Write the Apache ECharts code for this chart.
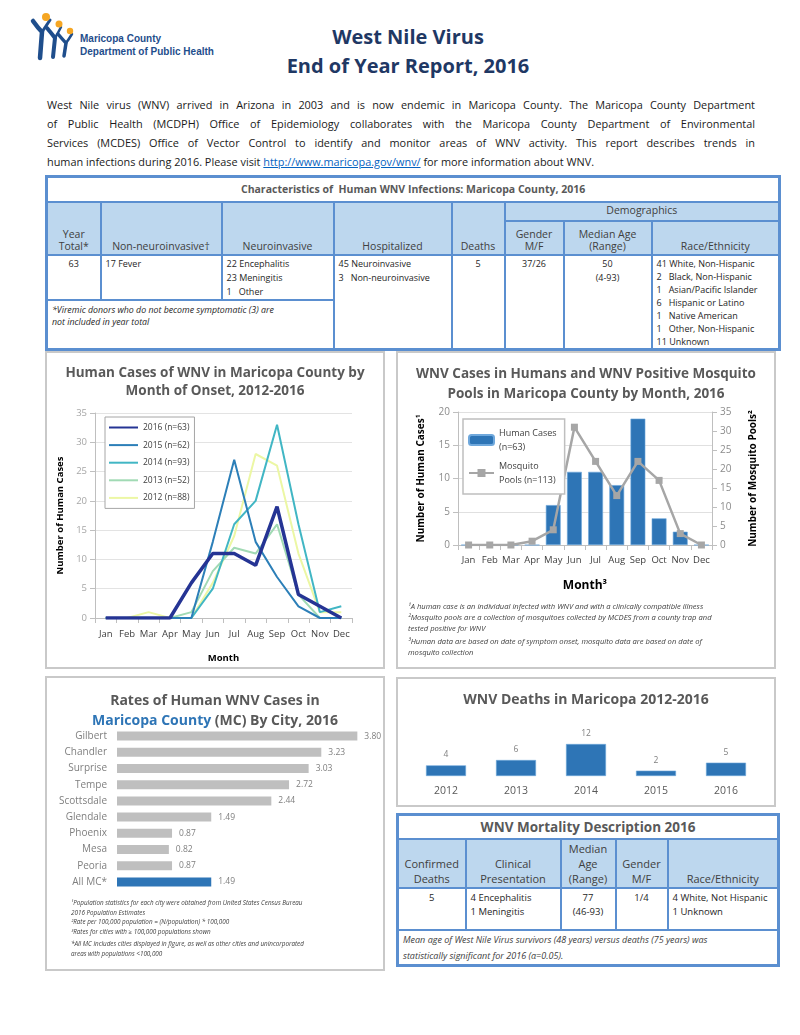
<!DOCTYPE html>
<html>
<head>
<meta charset="utf-8">
<script src="https://cdn.jsdelivr.net/npm/echarts@6/dist/echarts.min.js"></script>
<style>
  body { margin: 0; background: #fff; font-family: "Open Sans", sans-serif; color: #262626; }
  .abs { position: absolute; }
  #logoText { left: 80px; top: 32px; font-family: "Liberation Sans", Arial, sans-serif; font-weight: bold; font-size: 10px; line-height: 13px; color: #1f4e8c; }
  #title { left: 208px; width: 400px; top: 22px; text-align: center; font-family: "Open Sans", sans-serif; font-weight: bold; font-size: 20px; line-height: 29px; color: #1f3864; }
  #intro { left: 47px; top: 95px; width: 708px; font-size: 10.9px; color: #1a1a1a; }
  #intro div { height: 19px; line-height: 19px; text-align: justify; text-align-last: justify; }
  #intro div.last { text-align-last: left; }
  #intro a { color: #0563c1; }
  table { border-collapse: collapse; table-layout: fixed; }
  td { padding: 0 4px; overflow: hidden; }
  #t1 { left: 45px; top: 175px; width: 733px; border: 3px solid #5b8fd0; }
  #t1 td { border: 2px solid #5b8fd0; }
  #t1 .ttl { text-align: center; font-weight: bold; font-size: 10.5px; color: #595959; background: #fff; }
  #t1 .hd td { background: #bdd7ee; text-align: center; vertical-align: bottom; font-size: 10.5px; line-height: 12px; color: #404040; padding-bottom: 2px; }
  #t1 .dt td { vertical-align: top; font-size: 9px; line-height: 14px; padding-top: 1px; background: #fff; }
  #t1 td.race { line-height: 13px; }
  #t1 td.c { text-align: center; }
  #t1 td.fn { font-style: italic; font-size: 8.8px; line-height: 12.5px; vertical-align: top; padding-top: 3px; }
  .panel { position: absolute; box-sizing: border-box; border: 2px solid #c9c9c9; background: #fff; }
  .chart { position: absolute; }
  #t2 { left: 396px; top: 813px; width: 381px; border: 3px solid #5b8fd0; }
  #t2 td { border: 2px solid #5b8fd0; }
  #t2 .ttl { text-align: center; font-weight: bold; font-size: 13.5px; color: #595959; }
  #t2 .hd td { background: #bdd7ee; text-align: center; vertical-align: bottom; font-size: 11px; line-height: 15px; color: #404040; padding-bottom: 1px; }
  #t2 .dt td { vertical-align: top; font-size: 9.5px; line-height: 14px; padding-top: 2px; }
  #t2 td.c { text-align: center; }
  #t2 td.fn { font-style: italic; font-size: 9px; line-height: 16px; padding-top: 1px; color: #404040; }
</style>
</head>
<body>
<!-- logo -->
<svg class="abs" style="left:28px;top:10px" width="50" height="52">
  <g fill="none" stroke="#1f4e8c" stroke-linecap="round">
    <path d="M5 11 Q10 18 14 22 L12 48" stroke-width="4.5"/>
    <path d="M22 10 Q18 16 14 22" stroke-width="3"/>
    <path d="M19 18 Q24 24 27 28 L25 47" stroke-width="4"/>
    <path d="M33 17 Q30 23 27 28" stroke-width="2.5"/>
    <path d="M30 24 Q35 30 38 33 L36 46" stroke-width="3.5"/>
    <path d="M44 24 Q41 29 38 33" stroke-width="2.5"/>
  </g>
  <circle cx="18" cy="7" r="4" fill="#f5a623"/>
  <circle cx="31" cy="14" r="3.5" fill="#f5a623"/>
  <circle cx="42" cy="21" r="3.2" fill="#f5a623"/>
</svg>
<div id="logoText" class="abs">Maricopa County<br>Department of Public Health</div>

<div id="title" class="abs">West Nile Virus<br>End of Year Report, 2016</div>

<div id="intro" class="abs">
  <div>West Nile virus (WNV) arrived in Arizona in 2003 and is now endemic in Maricopa County. The Maricopa County Department</div>
  <div>of Public Health (MCDPH) Office of Epidemiology collaborates with the Maricopa County Department of Environmental</div>
  <div>Services (MCDES) Office of Vector Control to identify and monitor areas of WNV activity. This report describes trends in</div>
  <div class="last">human infections during 2016. Please visit <a href="#">http://www.maricopa.gov/wnv/</a> for more information about WNV.</div>
</div>

<table id="t1" class="abs">
  <colgroup>
    <col style="width:54px"><col style="width:121px"><col style="width:112px"><col style="width:118px">
    <col style="width:53px"><col style="width:59px"><col style="width:88px"><col style="width:128px">
  </colgroup>
  <tr style="height:25px"><td colspan="8" class="ttl">Characteristics of&nbsp; Human WNV Infections: Maricopa County, 2016</td></tr>
  <tr class="hd" style="height:19px">
    <td rowspan="2">Year<br>Total*</td><td rowspan="2">Non-neuroinvasive†</td><td rowspan="2">Neuroinvasive</td>
    <td rowspan="2">Hospitalized</td><td rowspan="2">Deaths</td><td colspan="3" style="vertical-align:middle">Demographics</td>
  </tr>
  <tr class="hd" style="height:34px"><td>Gender<br>M/F</td><td>Median Age<br>(Range)</td><td>Race/Ethnicity</td></tr>
  <tr class="dt" style="height:42px">
    <td class="c">63</td><td>17 Fever</td><td>22 Encephalitis<br>23 Meningitis<br>1&nbsp;&nbsp; Other</td>
    <td rowspan="2">45 Neuroinvasive<br>3&nbsp;&nbsp; Non-neuroinvasive</td>
    <td rowspan="2" class="c">5</td><td rowspan="2" class="c">37/26</td><td rowspan="2" class="c">50<br>(4-93)</td>
    <td rowspan="2" class="race">41 White, Non-Hispanic<br>2&nbsp;&nbsp; Black, Non-Hispanic<br>1&nbsp;&nbsp; Asian/Pacific Islander<br>6&nbsp;&nbsp; Hispanic or Latino<br>1&nbsp;&nbsp; Native American<br>1&nbsp;&nbsp; Other, Non-Hispanic<br>11 Unknown</td>
  </tr>
  <tr style="height:50px"><td colspan="3" class="fn">*Viremic donors who do not become symptomatic (3) are<br>not included in year total</td></tr>
</table>

<div class="panel" style="left:45px;top:351px;width:340px;height:318px"></div>
<div id="c1" class="chart" style="left:45px;top:351px;width:340px;height:318px"></div>

<div class="panel" style="left:396px;top:351px;width:380px;height:318px"></div>
<div id="c2" class="chart" style="left:396px;top:351px;width:380px;height:318px"></div>

<div class="panel" style="left:45px;top:676px;width:340px;height:295px"></div>
<div id="c3" class="chart" style="left:45px;top:676px;width:340px;height:295px"></div>

<div class="panel" style="left:396px;top:677px;width:380px;height:130px"></div>
<div id="c4" class="chart" style="left:396px;top:677px;width:380px;height:130px"></div>

<table id="t2" class="abs">
  <colgroup><col style="width:68px"><col style="width:95px"><col style="width:55px"><col style="width:52px"><col style="width:111px"></colgroup>
  <tr style="height:24px"><td colspan="5" class="ttl">WNV Mortality Description 2016</td></tr>
  <tr class="hd" style="height:49px"><td>Confirmed<br>Deaths</td><td>Clinical<br>Presentation</td><td>Median<br>Age<br>(Range)</td><td>Gender<br>M/F</td><td>Race/Ethnicity</td></tr>
  <tr class="dt" style="height:42px"><td class="c">5</td><td>4 Encephalitis<br>1 Meningitis</td><td class="c">77<br>(46-93)</td><td class="c">1/4</td><td>4 White, Not Hispanic<br>1 Unknown</td></tr>
  <tr style="height:34px"><td colspan="5" class="fn">Mean age of West Nile Virus survivors (48 years) versus deaths (75 years) was<br>statistically significant for 2016 (α=0.05).</td></tr>
</table>

<script>
// 月份
const months = ['Jan', 'Feb', 'Mar', 'Apr', 'May', 'Jun', 'Jul', 'Aug', 'Sep', 'Oct', 'Nov', 'Dec']
// 各年人类病例（按发病月份）
const cases2016 = [0, 0, 0, 0, 6, 11, 11, 9, 19, 4, 2, 0]
const cases2015 = [0, 0, 0, 0, 0, 13, 27, 13, 7, 2, 0, 0]
const cases2014 = [0, 0, 0, 0, 0, 5, 16, 20, 33, 16, 1, 2]
const cases2013 = [0, 0, 0, 0, 1, 8, 12, 11, 16, 4, 0, 0]
const cases2012 = [0, 0, 1, 0, 0, 6, 14, 28, 26, 11, 1, 1]
const yearNames = ['2016 (n=63)', '2015 (n=62)', '2014 (n=93)', '2013 (n=52)', '2012 (n=88)']
// 2016 人类病例 vs 蚊子池
const humanCases2016 = [0, 0, 0, 0, 6, 11, 11, 9, 19, 4, 2, 0]
const mosquitoPools2016 = [0, 0, 0, 1, 4, 31, 22, 13, 22, 17, 3, 0]
// 各城市发病率
const cities = ['Gilbert', 'Chandler', 'Surprise', 'Tempe', 'Scottsdale', 'Glendale', 'Phoenix', 'Mesa', 'Peoria', 'All MC*']
const cityRates = [3.80, 3.23, 3.03, 2.72, 2.44, 1.49, 0.87, 0.82, 0.87, 1.49]
// 死亡
const deathYears = ['2012', '2013', '2014', '2015', '2016']
const deaths = [4, 6, 12, 2, 5]

const font = 'Open Sans'
const gray = '#595959'

// 图1 折线图
const chart1 = echarts.init(document.getElementById('c1'))
const lineColors = { '2016 (n=63)': '#253494', '2015 (n=62)': '#2c7fb8', '2014 (n=93)': '#41b6c4', '2013 (n=52)': '#a1dab4', '2012 (n=88)': '#ecf7a4' }
const lineData = { '2016 (n=63)': cases2016, '2015 (n=62)': cases2015, '2014 (n=93)': cases2014, '2013 (n=52)': cases2013, '2012 (n=88)': cases2012 }
chart1.setOption({
    animation: false,
    textStyle: { fontFamily: font },
    title: {
        text: 'Human Cases of WNV in Maricopa County by\nMonth of Onset, 2012-2016',
        left: 'center', top: 8,
        textStyle: { fontSize: 13.5, fontWeight: 'bold', color: gray, lineHeight: 18, fontFamily: font }
    },
    legend: {
        orient: 'vertical', left: 60, top: 66,
        data: yearNames,
        itemWidth: 29, itemHeight: 10, itemGap: 8.6,
        padding: [6, 5, 6, 3],
        borderColor: '#a6a6a6', borderWidth: 1, backgroundColor: '#fff',
        itemStyle: { opacity: 0 }, // 只显示线，不显示点
        textStyle: { fontSize: 8.5, color: '#404040' }
    },
    grid: { left: 50, right: 33, top: 62, bottom: 51 },
    xAxis: {
        type: 'category', data: months, boundaryGap: true,
        axisLine: { lineStyle: { color: '#bfbfbf' } },
        axisTick: { show: true, lineStyle: { color: '#bfbfbf' } },
        axisLabel: { color: '#404040', fontSize: 9.5, interval: 0, margin: 11 },
        name: 'Month', nameLocation: 'middle', nameGap: 35,
        nameTextStyle: { fontWeight: 'bold', fontSize: 9.5, color: '#000' }
    },
    yAxis: {
        type: 'value', min: 0, max: 35, interval: 5,
        axisLine: { show: true, lineStyle: { color: '#bfbfbf' } },
        axisTick: { show: true, lineStyle: { color: '#bfbfbf' } },
        axisLabel: { color: '#a6a6a6', fontSize: 9.5 },
        splitLine: { lineStyle: { color: '#e3e3e3' } },
        name: 'Number of Human Cases', nameLocation: 'middle', nameRotate: 90, nameGap: 27,
        nameTextStyle: { fontWeight: 'bold', fontSize: 9.5, color: '#000' }
    },
    // 2016 最后画，在最上面
    series: yearNames.slice().reverse().map(name => ({
        name: name,
        type: 'line',
        data: lineData[name],
        symbol: 'none',
        color: lineColors[name],
        lineStyle: { width: name === '2016 (n=63)' ? 3.5 : 2, color: lineColors[name] }
    }))
})

// 图2 柱状 + 折线
const chart2 = echarts.init(document.getElementById('c2'))
const foot2 = [
    '¹A human case is an individual infected with WNV and with a clinically compatible illness',
    '²Mosquito pools are a collection of mosquitoes collected by MCDES from a county trap and',
    'tested positive for WNV',
    '³Human data are based on date of symptom onset, mosquito data are based on date of',
    'mosquito collection'
]
const foot2Y = [257, 268, 279, 292, 303]
chart2.setOption({
    animation: false,
    textStyle: { fontFamily: font },
    title: {
        text: 'WNV Cases in Humans and WNV Positive Mosquito\nPools in Maricopa County by Month, 2016',
        left: 'center', top: 8,
        textStyle: { fontSize: 13.5, fontWeight: 'bold', color: gray, lineHeight: 20, fontFamily: font }
    },
    legend: {
        orient: 'vertical', left: 67, top: 68,
        data: ['Human Cases', 'Mosquito Pools'],
        itemWidth: 25, itemHeight: 10, itemGap: 5,
        padding: [7, 8, 7, 5],
        borderColor: '#bfbfbf', borderWidth: 1.5, backgroundColor: '#fff',
        formatter: name => name === 'Human Cases' ? 'Human Cases\n(n=63)' : 'Mosquito\nPools (n=113)',
        textStyle: { fontSize: 9, color: '#404040', lineHeight: 14 }
    },
    grid: { left: 62, right: 64, top: 61, bottom: 124 },
    xAxis: {
        type: 'category', data: months,
        axisLine: { lineStyle: { color: '#bfbfbf' } },
        axisTick: { show: true, lineStyle: { color: '#bfbfbf' } },
        axisLabel: { color: '#404040', fontSize: 9.5, interval: 0, margin: 10 },
        name: 'Month³', nameLocation: 'middle', nameGap: 35,
        nameTextStyle: { fontWeight: 'bold', fontSize: 12, color: '#000' }
    },
    yAxis: [
        {
            type: 'value', min: 0, max: 20, interval: 5,
            axisLine: { show: true, lineStyle: { color: '#bfbfbf' } },
            axisTick: { show: true, lineStyle: { color: '#bfbfbf' } },
            axisLabel: { color: '#8c8c8c', fontSize: 10 },
            splitLine: { lineStyle: { color: '#e0e0e0' } },
            name: 'Number of Human Cases¹', nameLocation: 'middle', nameRotate: 90, nameGap: 32,
            nameTextStyle: { fontWeight: 'bold', fontSize: 10, color: '#000' }
        },
        {
            type: 'value', min: 0, max: 35, interval: 5,
            axisLine: { show: true, lineStyle: { color: '#bfbfbf' } },
            axisTick: { show: true, lineStyle: { color: '#bfbfbf' } },
            axisLabel: { color: '#8c8c8c', fontSize: 10 },
            splitLine: { show: false },
            name: 'Number of Mosquito Pools²', nameLocation: 'middle', nameRotate: 90, nameGap: 36,
            nameTextStyle: { fontWeight: 'bold', fontSize: 10, color: '#000' }
        }
    ],
    graphic: foot2.map((t, i) => ({
        type: 'text', left: 12, top: foot2Y[i] - 5,
        style: { text: t, font: 'italic 7.6px "Open Sans"', fill: '#404040' }
    })),
    series: [
        {
            name: 'Human Cases', type: 'bar', data: humanCases2016, barWidth: '70%',
            itemStyle: { color: '#2e75b6', borderColor: '#6fa8dc', borderWidth: 0.6 }
        },
        {
            name: 'Mosquito Pools', type: 'line', yAxisIndex: 1, data: mosquitoPools2016,
            symbol: 'rect', symbolSize: 7, color: '#a6a6a6',
            lineStyle: { width: 2.5, color: '#a6a6a6' }
        }
    ]
})

// 图3 城市发病率
const chart3 = echarts.init(document.getElementById('c3'))
const foot3 = [
    '¹Population statistics for each city were obtained from United States Census Bureau',
    '2016 Population Estimates',
    '²Rate per 100,000 population = (N/population) * 100,000',
    '³Rates for cities with ≥ 100,000 populations shown',
    '*All MC includes cities displayed in figure, as well as other cities and unincorporated',
    'areas with populations <100,000'
]
const foot3Y = [228, 238, 247, 257, 269, 279]
chart3.setOption({
    animation: false,
    textStyle: { fontFamily: font },
    title: {
        text: '{g|Rates of Human WNV Cases in}\n{b|Maricopa County}{g| (MC) By City, 2016}',
        left: 'center', top: 10,
        textStyle: {
            rich: {
                g: { fontSize: 14, fontWeight: 'bold', color: gray, lineHeight: 20, fontFamily: font },
                b: { fontSize: 14, fontWeight: 'bold', color: '#2e75b6', lineHeight: 20, fontFamily: font }
            }
        }
    },
    grid: { left: 72, right: 15, top: 52, bottom: 81 },
    xAxis: { type: 'value', min: 0, max: 4, show: false },
    yAxis: {
        type: 'category', data: cities, inverse: true,
        axisLine: { show: false }, axisTick: { show: false },
        axisLabel: { color: '#7f7f7f', fontSize: 10, margin: 10 }
    },
    graphic: foot3.map((t, i) => ({
        type: 'text', left: 26, top: foot3Y[i] - 4,
        style: { text: t, font: 'italic 6.3px "Open Sans"', fill: '#404040' }
    })),
    series: [{
        type: 'bar', data: cityRates, barWidth: 9,
        itemStyle: { color: p => p.dataIndex === cities.length - 1 ? '#2e75b6' : '#bfbfbf' },
        label: { show: true, position: 'right', distance: 7, color: '#7f7f7f', fontSize: 8.5, formatter: p => p.value.toFixed(2) }
    }]
})

// 图4 死亡
const chart4 = echarts.init(document.getElementById('c4'))
chart4.setOption({
    animation: false,
    textStyle: { fontFamily: font },
    title: {
        text: 'WNV Deaths in Maricopa 2012-2016', left: 'center', top: 11,
        textStyle: { fontSize: 14, fontWeight: 'bold', color: gray, fontFamily: font }
    },
    grid: { left: 15, right: 15, top: 67, bottom: 31 },
    xAxis: {
        type: 'category', data: deathYears,
        axisLine: { show: false }, axisTick: { show: false },
        axisLabel: { color: gray, fontSize: 10.5, margin: 10 }
    },
    yAxis: { type: 'value', min: 0, max: 12, show: false },
    series: [{
        type: 'bar', data: deaths, barWidth: 40,
        itemStyle: { color: '#2e75b6', borderColor: '#6fa8dc', borderWidth: 0.6 },
        label: { show: true, position: 'top', distance: 6, color: '#7f7f7f', fontSize: 8.5 }
    }]
})
</script>
</body>
</html>
